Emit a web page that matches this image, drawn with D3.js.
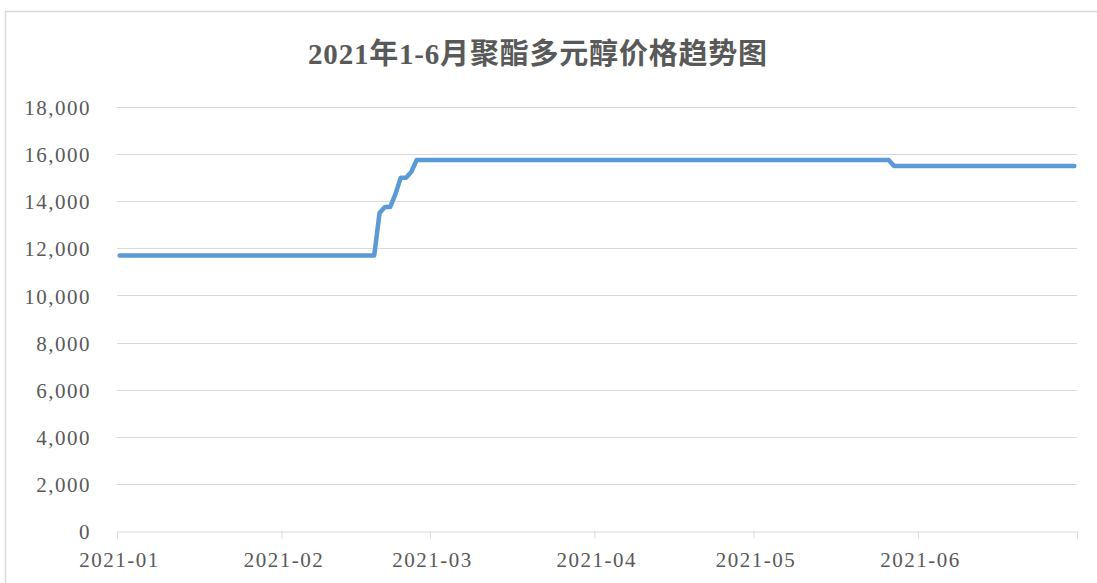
<!DOCTYPE html>
<html>
<head>
<meta charset="utf-8">
<script src="https://cdn.jsdelivr.net/npm/d3@7"></script>
<style>
  body { margin: 0; background: #fff; }
  svg { display: block; }
  .axis text { font-family: "Liberation Serif", "Noto Sans CJK SC", serif; font-size: 21px; fill: #595959; letter-spacing: 1.5px; }
</style>
</head>
<body>
<div id="chart"></div>
<script>
// price change points (yuan/ton)
const dates = ["2021-01-01", "2021-02-18", "2021-02-19", "2021-02-20", "2021-02-21", "2021-02-22",
  "2021-02-23", "2021-02-24", "2021-02-25", "2021-02-26", "2021-05-26", "2021-05-27", "2021-06-30"];
const prices = [11700, 11700, 13500, 13750, 13750, 14300, 15000, 15000, 15250, 15750, 15750, 15500, 15500];
const yTicks = [0, 2000, 4000, 6000, 8000, 10000, 12000, 14000, 16000, 18000];
const monthTicks = ["2021-01-01", "2021-02-01", "2021-03-01", "2021-04-01", "2021-05-01", "2021-06-01", "2021-07-01"];
const title = "2021年1-6月聚酯多元醇价格趋势图";

const W = 1097, H = 583;
const margin = { left: 117, right: 20, top: 107, bottom: 52 };

const parse = d3.timeParse("%Y-%m-%d %H");
// Excel-style date axis: each day's point sits in the middle of its slot
const data = dates.map((d, i) => ({ date: parse(d + " 12"), value: prices[i] }));
const ticks = monthTicks.map(d => parse(d + " 00"));

const svg = d3.select("#chart").append("svg")
  .attr("width", W)
  .attr("height", H);

// chart frame
svg.append("rect")
  .attr("x", 5.5).attr("y", 11.5)
  .attr("width", W + 10).attr("height", H + 10)
  .attr("fill", "none")
  .attr("stroke", "#d9d9d9")
  .attr("stroke-width", 1.5);

svg.append("text")
  .attr("x", 538)
  .attr("y", 64)
  .attr("text-anchor", "middle")
  .attr("font-family", "'Liberation Serif', 'Noto Sans CJK SC', serif")
  .attr("font-weight", "bold")
  .attr("font-size", 29)
  .attr("letter-spacing", "0.8px")
  .attr("fill", "#595959")
  .text(title);

const x = d3.scaleTime()
  .domain([ticks[0], ticks[ticks.length - 1]])
  .range([margin.left, W - margin.right]);

const y = d3.scaleLinear()
  .domain([0, 18000])
  .range([H - margin.bottom, margin.top]);

// gridlines
svg.append("g")
  .selectAll("line")
  .data(yTicks.filter(d => d > 0))
  .enter().append("line")
    .attr("x1", margin.left)
    .attr("x2", W - margin.right)
    .attr("y1", d => Math.round(y(d)) + 0.5)
    .attr("y2", d => Math.round(y(d)) + 0.5)
    .attr("stroke", "#d9d9d9")
    .attr("stroke-width", 1);

// y axis labels only
const yAxis = svg.append("g")
  .attr("class", "axis")
  .attr("transform", "translate(" + (margin.left - 26) + ",0)")
  .call(d3.axisLeft(y).tickValues(yTicks).tickSize(0).tickPadding(0).tickFormat(d3.format(",")));
yAxis.select(".domain").remove();
yAxis.selectAll("text").attr("dy", "0.36em");

// x axis
const fmt = d3.timeFormat("%Y-%m");
const xAxis = svg.append("g")
  .attr("class", "axis")
  .attr("transform", "translate(0," + (Math.round(y(0)) + 0.5) + ")")
  .call(d3.axisBottom(x).tickValues(ticks).tickSizeInner(7).tickSizeOuter(0).tickPadding(14)
    .tickFormat((d, i) => i < ticks.length - 1 ? fmt(d) : ""));
xAxis.select(".domain").attr("stroke", "#d9d9d9");
xAxis.selectAll(".tick line").attr("stroke", "#d9d9d9");
xAxis.selectAll("text").attr("dy", "0.71em").attr("dx", "2px");

// price line
const line = d3.line()
  .x(d => x(d.date))
  .y(d => y(d.value));

svg.append("path")
  .datum(data)
  .attr("d", line)
  .attr("fill", "none")
  .attr("stroke", "#5b9bd5")
  .attr("stroke-width", 4.5)
  .attr("stroke-linejoin", "round")
  .attr("stroke-linecap", "round");
</script>
</body>
</html>
